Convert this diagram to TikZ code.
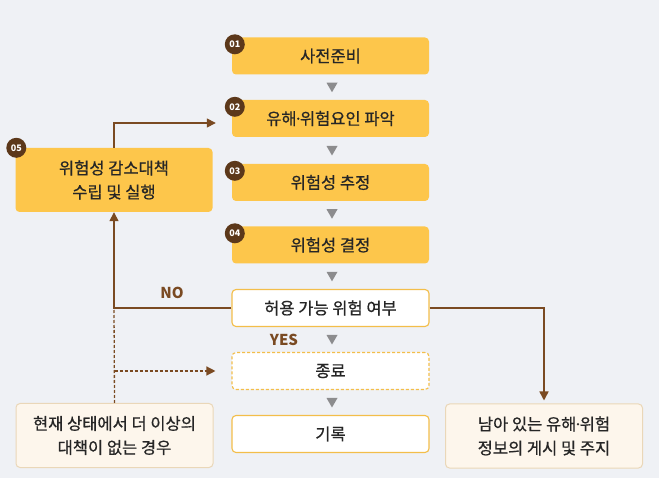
\documentclass[tikz,border=0pt]{standalone}
\usepackage{fontspec}
\setmainfont{Noto Sans CJK KR}
\newfontfamily\medk[FakeBold=0.7]{Noto Sans CJK KR}
\usetikzlibrary{arrows.meta,calc}
\definecolor{bg}{HTML}{EFF1F5}
\definecolor{ybox}{HTML}{FDC64B}
\definecolor{obor}{HTML}{F3BE4A}
\definecolor{brn}{HTML}{7A4A22}
\definecolor{badgec}{HTML}{5C381A}
\definecolor{txt}{HTML}{262626}
\definecolor{tri}{HTML}{8C8C8E}
\definecolor{creamf}{HTML}{FDF6EC}
\definecolor{creamb}{HTML}{EAD7B8}
\newcommand{\mdot}{\kern-0.18em·\kern-0.18em}
\begin{document}
\begin{tikzpicture}[x=1pt,y=-1pt,
  basebox/.style={rounded corners=4pt, minimum width=197pt, minimum height=37pt, inner sep=0pt, align=center, text=txt, font=\medk\fontsize{16.5}{24}\selectfont},
  mainbox/.style={basebox, fill=ybox},
  whitebox/.style={basebox, fill=white, draw=obor, line width=1.1pt},
  dashbox/.style={basebox, fill=white, draw=obor, line width=1.1pt, dash pattern=on 3pt off 2pt},
  notebox/.style={basebox, fill=creamf, draw=creamb, line width=1pt, minimum height=64pt},
  badge/.style={circle, fill=badgec, text=white, minimum size=20pt, inner sep=0pt, font=\bfseries\fontsize{9}{9}\selectfont},
  arr/.style={draw=brn, line width=1.5pt, -{Triangle[width=9pt,length=9pt]}},
  dln/.style={draw=brn, line width=1.3pt, dash pattern=on 3pt off 2pt},
  darr/.style={dln, -{Triangle[width=9pt,length=9pt]}},
  lbl/.style={text=brn, font=\bfseries\fontsize{15}{15}\selectfont},
  trifill/.style={fill=tri}
]
\useasboundingbox (0,0) rectangle (659,478);
\fill[bg] (0,0) rectangle (659,478);

% main column
\node[mainbox] (b1) at (330.5,56) {사전준비};
\node[mainbox] (b2) at (330.5,118.5) {유해\mdot 위험요인 파악};
\node[mainbox] (b3) at (330.5,182.5) {위험성 추정};
\node[mainbox] (b4) at (330.5,245) {위험성 결정};
\node[whitebox] (b5) at (330.5,308) {허용 가능 위험 여부};
\node[dashbox] (b6) at (330.5,371) {종료};
\node[whitebox] (b7) at (330.5,434) {기록};

% side boxes
\node[mainbox, minimum height=64pt] (n5) at (114,180) {위험성 감소대책\\수립 및 실행};
\node[notebox] (cur) at (114.5,435.5) {현재 상태에서 더 이상의\\대책이 없는 경우};
\node[notebox] (rem) at (544,436) {남아 있는 유해\mdot 위험\\정보의 게시 및 주지};

% badges
\node[badge] (k1) at ($(b1.north west)+(3,7)$) {01};
\node[badge] (k2) at ($(b2.north west)+(3,7)$) {02};
\node[badge] (k3) at ($(b3.north west)+(3,7)$) {03};
\node[badge] (k4) at ($(b4.north west)+(3,7)$) {04};
\node[badge] (k5) at ($(n5.north west)+(1,0)$) {05};

% gray triangles
\foreach \a/\b in {b1/b2,b2/b3,b3/b4,b4/b5,b5/b6,b6/b7}{
  \fill[trifill] ($(\a.south)!0.5!(\b.north)+(1.5,0)$) ++(-5.5,-4.5) -- ++(11,0) -- ++(-5.5,9.5) -- cycle;
}

% connectors
\coordinate (j) at (n5.south |- b5.west);
\draw[arr] (n5.north) |- ($(b2.west)+(-16,4.5)$);
\draw[arr] (b5.west) -- (j) -- (n5.south);
\draw[dln] (cur.north) -- (j);
\draw[darr] (cur.north |- b6.west) -- ($(b6.west)+(-16,0)$);
\draw[arr, shorten >=3pt] (b5.east) -| (rem.north);

% labels
\node[lbl] (no) at (172,293) {NO};
\node[lbl] (yes) at (284,340) {YES};
\end{tikzpicture}
\end{document}
